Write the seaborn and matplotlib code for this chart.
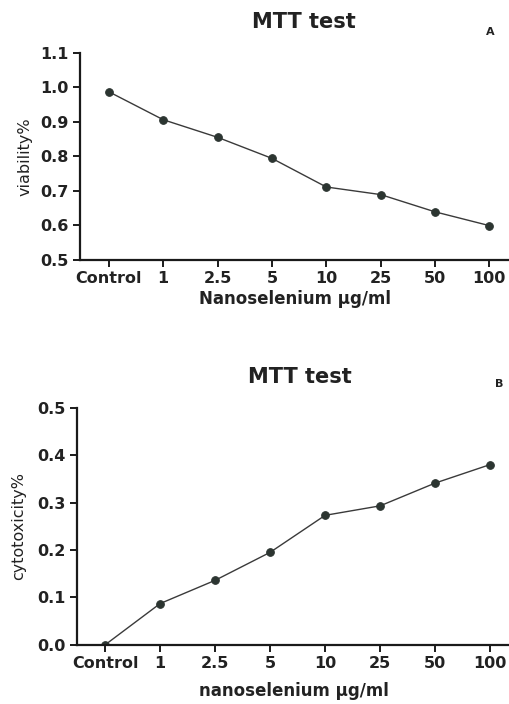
import matplotlib
matplotlib.use("Agg")
import matplotlib.pyplot as plt
import seaborn as sns

doses = ["Control", "1", "2.5", "5", "10", "25", "50", "100"]
viability = [0.987, 0.906, 0.855, 0.794, 0.711, 0.689, 0.639, 0.599]
cytotoxicity = [0.0, 0.087, 0.136, 0.195, 0.273, 0.293, 0.341, 0.380]

sns.set_theme(style="ticks")
plt.rcParams["font.family"] = ["DejaVu Sans"]

fig = plt.figure(figsize=(5.10, 7.04), dpi=100)
ax1 = fig.add_axes([0.157, 0.631, 0.843, 0.294])
ax2 = fig.add_axes([0.151, 0.084, 0.849, 0.337])

line_c = "#3a3a3a"
mark_c = "#2c3531"

def draw(ax, vals, ylim, yticks, ylabel, xlabel, title, letter, xlim,
         xpad, ypad, title_x, letter_x):
    sns.pointplot(x=doses, y=vals, ax=ax, color=line_c, markers="o",
                  markersize=5.5, linewidth=1.0, errorbar=None)
    for coll in ax.collections:
        coll.set_facecolor(mark_c)
        coll.set_edgecolor(mark_c)
    for ln in ax.lines:
        ln.set_markerfacecolor(mark_c)
        ln.set_markeredgecolor(mark_c)
    ax.set_xlim(*xlim)
    ax.set_ylim(*ylim)
    ax.set_yticks(yticks)
    ax.set_yticklabels([f"{t:.1f}" for t in yticks])
    sns.despine(ax=ax)
    for s in ["left", "bottom"]:
        ax.spines[s].set_linewidth(1.6)
        ax.spines[s].set_color("#1a1a1a")
    ax.tick_params(axis="both", direction="out", length=5, width=1.4,
                   colors="#1a1a1a", labelsize=11.5, pad=3)
    for lab in ax.get_xticklabels() + ax.get_yticklabels():
        lab.set_fontweight("bold")
        lab.set_color("#222222")
    ax.set_ylabel(ylabel, fontsize=11.5, color="#222222", labelpad=ypad)
    ax.set_xlabel(xlabel, fontsize=12, fontweight="bold", color="#222222", labelpad=xpad)
    ax.set_title(title, fontsize=15, fontweight="bold", color="#222222", pad=18,
                 x=title_x)
    ax.text(letter_x, 1.10, letter, transform=ax.transAxes, fontsize=8,
            fontweight="bold", color="#222222", ha="center", va="center")

draw(ax1, viability, (0.5, 1.1), [0.5, 0.6, 0.7, 0.8, 0.9, 1.0, 1.1],
     "viability%", "Nanoselenium µg/ml", "MTT test", "A", (-0.53, 7.38),
     xpad=3, ypad=6, title_x=0.52, letter_x=0.955)
draw(ax2, cytotoxicity, (0.0, 0.5), [0.0, 0.1, 0.2, 0.3, 0.4, 0.5],
     "cytotoxicity%", "nanoselenium µg/ml", "MTT test", "B", (-0.51, 7.36),
     xpad=8, ypad=8, title_x=0.515, letter_x=0.975)

fig.savefig("out.png", dpi=100, facecolor="white")
